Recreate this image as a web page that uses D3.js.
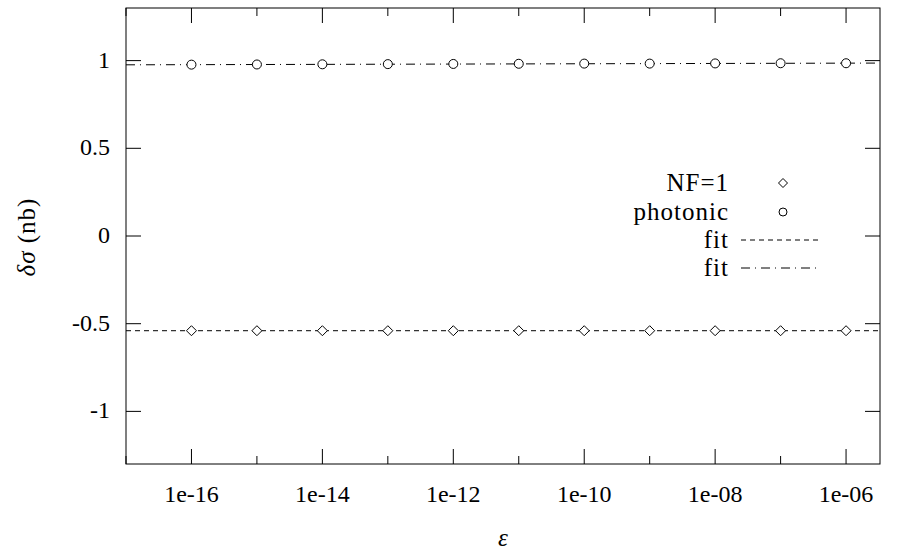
<!DOCTYPE html>
<html><head><meta charset="utf-8">
<script src="https://cdn.jsdelivr.net/npm/d3@7"></script>
<style>body{margin:0;background:#fff}</style>
</head><body><svg id="c" width="900" height="550"></svg>
<script>
const epsilon = [1e-16,1e-15,1e-14,1e-13,1e-12,1e-11,1e-10,1e-9,1e-8,1e-7,1e-6];
const nf1 = [-0.54,-0.54,-0.54,-0.54,-0.54,-0.54,-0.54,-0.54,-0.54,-0.54,-0.54];
const photonic = [0.977,0.978,0.979,0.980,0.981,0.982,0.983,0.983,0.984,0.985,0.985];
const fitNF = [-0.54,-0.54];
const fitPhot = [0.976,0.986];
const xTickLabels = ["1e-16","1e-14","1e-12","1e-10","1e-08","1e-06"];
const yTicks = [-1,-0.5,0,0.5,1];
const yTickLabels = ["-1","-0.5","0","0.5","1"];
const legendLabels = ["NF=1","photonic","fit","fit"];

const FF = "Liberation Serif";
const svg = d3.select("#c");
const L=126,R=880,T=8,B=464;
const x = d3.scaleLog().domain([1e-17,3.3e-6]).range([L,R]);
const y = d3.scaleLinear().domain([-1.3,1.3]).range([B,T]);

const g = svg.append("g");
const txt = (xp,yp,anchor,fs)=>g.append("text").attr("x",xp).attr("y",yp).attr("text-anchor",anchor)
   .style("font-size",fs+"px").style("font-family",FF).attr("fill","#000");

g.append("rect").attr("x",L).attr("y",T).attr("width",R-L).attr("height",B-T).attr("fill","none").attr("stroke","#000").attr("stroke-width",1);

const decades = d3.range(-17,-5).map(e=>Math.pow(10,e)).filter(v=>v>=1e-17&&v<=3.3e-6);
decades.forEach(v=>{
  const e = Math.round(Math.log10(v));
  const len = (e%2===0)?15:8;
  const xp = x(v);
  g.append("line").attr("x1",xp).attr("x2",xp).attr("y1",B).attr("y2",B-len).attr("stroke","#000");
  g.append("line").attr("x1",xp).attr("x2",xp).attr("y1",T).attr("y2",T+len).attr("stroke","#000");
});
const majorX = [1e-16,1e-14,1e-12,1e-10,1e-8,1e-6];
majorX.forEach((v,i)=>{ txt(x(v),502,"middle",24).text(xTickLabels[i]); });
yTicks.forEach((v,i)=>{
  const yp = y(v);
  g.append("line").attr("x1",L).attr("x2",L+15).attr("y1",yp).attr("y2",yp).attr("stroke","#000");
  g.append("line").attr("x1",R).attr("x2",R-15).attr("y1",yp).attr("y2",yp).attr("stroke","#000");
  txt(110,yp+7,"end",24).text(yTickLabels[i]);
});
g.append("text").attr("transform","translate(35,237) rotate(-90)").attr("text-anchor","middle")
  .style("font-size","25px").style("font-family",FF).style("letter-spacing","1px")
  .html('<tspan style="font-style:italic">δσ</tspan> (nb)');
txt(503,546,"middle",25).style("font-style","italic").text("ε");

const dom = x.domain();
const line = d3.line().x(d=>x(d[0])).y(d=>y(d[1]));
g.append("path").attr("d",line([[dom[0],fitNF[0]],[dom[1],fitNF[1]]])).attr("fill","none").attr("stroke","#000").attr("stroke-dasharray","5,4");
g.append("path").attr("d",line([[dom[0],fitPhot[0]],[dom[1],fitPhot[1]]])).attr("fill","none").attr("stroke","#000").attr("stroke-dasharray","9,5,1,5");

const diamond = (cx,cy,r)=>`M${cx},${cy-r}L${cx+r},${cy}L${cx},${cy+r}L${cx-r},${cy}Z`;
epsilon.forEach((e,i)=>{
  g.append("path").attr("d",diamond(x(e),y(nf1[i]),5)).attr("fill","#fff").attr("stroke","#000");
  g.append("circle").attr("cx",x(e)).attr("cy",y(photonic[i])).attr("r",4.5).attr("fill","#fff").attr("stroke","#000");
});

const lg = [183,212,240,268];
legendLabels.forEach((t,i)=>{ txt(729,lg[i]+8,"end",25).style("letter-spacing","1px").text(t); });
g.append("path").attr("d",diamond(783,lg[0],4.5)).attr("fill","#fff").attr("stroke","#000");
g.append("circle").attr("cx",783).attr("cy",lg[1]).attr("r",4).attr("fill","#fff").attr("stroke","#000");
g.append("line").attr("x1",741).attr("x2",820).attr("y1",lg[2]).attr("y2",lg[2]).attr("stroke","#000").attr("stroke-dasharray","5,4");
g.append("line").attr("x1",741).attr("x2",820).attr("y1",lg[3]).attr("y2",lg[3]).attr("stroke","#000").attr("stroke-dasharray","9,5,1,5");
</script></body></html>
